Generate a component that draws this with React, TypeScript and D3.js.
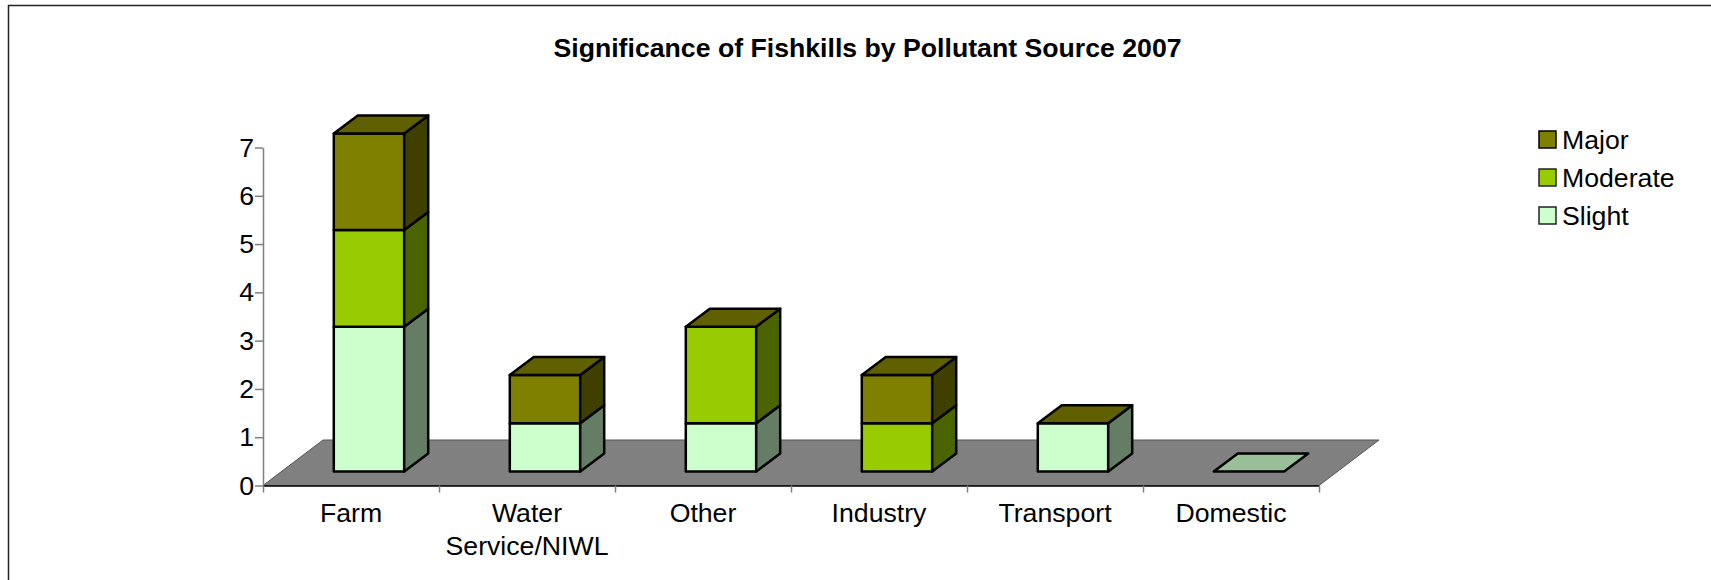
import React, { useEffect, useRef } from 'react';
import * as d3 from 'd3';

const title = 'Significance of Fishkills by Pollutant Source 2007';
const categories = ['Farm', 'Water Service/NIWL', 'Other', 'Industry', 'Transport', 'Domestic'];
// null = no value in the sheet, so no segment gets drawn (Domestic only has a flat Slight)
const slight = [3, 1, 1, 0, 1, 0];
const moderate = [2, 0, 2, 1, 0, null];
const major = [2, 1, 0, 1, 0, null];
const seriesNames = ['Slight', 'Moderate', 'Major'];
const seriesValues = [slight, moderate, major];
const legendOrder = ['Major', 'Moderate', 'Slight'];
const yTicks = [0, 1, 2, 3, 4, 5, 6, 7];

const colors: any = { Major: '#808000', Moderate: '#99cc00', Slight: '#ccffcc' };
const FONT = '"Liberation Sans", Arial, sans-serif';
const FONT_SIZE = 26.67;

export default function App() {
  const ref = useRef<SVGSVGElement>(null);

  useEffect(() => {
    const svg = d3.select(ref.current);
    svg.selectAll('*').remove();

    const x0 = 263, x1 = 1319, y0 = 485.5, y7 = 147.5;
    const floorDx = 60, floorDy = 45.5;
    const barDx = 24, barDy = 18;

    const xBand = d3.scaleBand().domain(categories).range([x0, x1]);
    const xEdge = d3.scaleLinear().domain([0, categories.length]).range([x0, x1]);
    const yScale = d3.scaleLinear().domain([0, 7]).range([y0, y7]);
    const barWidth = xBand.bandwidth() * 0.4;
    const barShift = 18;
    const baseLift = 14;

    // chart frame, only the top and left edges are visible
    svg.append('path')
      .attr('d', 'M8.5,580V5.5H1711')
      .attr('fill', 'none')
      .attr('stroke', '#222')
      .attr('stroke-width', 1.5);

    svg.append('text')
      .attr('x', 867.5)
      .attr('y', 57)
      .attr('text-anchor', 'middle')
      .attr('font-family', FONT)
      .attr('font-weight', 'bold')
      .attr('font-size', FONT_SIZE)
      .attr('fill', '#000')
      .text(title);

    // floor
    svg.append('path')
      .attr('d', `M${x0},${y0}L${x0 + floorDx},${y0 - floorDy}L${x1 + floorDx},${y0 - floorDy}L${x1},${y0}Z`)
      .attr('fill', '#808080')
      .attr('stroke', '#555')
      .attr('stroke-width', 1);

    // axes
    const yAxis = d3.axisLeft(yScale).tickValues(yTicks).tickFormat(d3.format('d') as any).tickSize(8).tickSizeOuter(0).tickPadding(1);
    const yG = svg.append('g').attr('transform', `translate(${x0},0)`).call(yAxis as any);
    yG.select('.domain').attr('stroke', '#808080').attr('stroke-width', 1.5);
    yG.selectAll('.tick line').attr('stroke', '#808080').attr('stroke-width', 1.5);
    yG.selectAll('text').attr('font-family', FONT).attr('font-size', FONT_SIZE).attr('fill', '#000');

    const xAxis = d3.axisBottom(xEdge).ticks(categories.length).tickFormat(() => '').tickSize(7).tickSizeOuter(0);
    const xG = svg.append('g').attr('transform', `translate(0,${y0})`).call(xAxis as any);
    xG.select('.domain').attr('stroke', '#000').attr('stroke-width', 1.5);
    xG.selectAll('.tick line').attr('stroke', '#808080').attr('stroke-width', 1.5);

    // category labels, wrapped on the space
    categories.forEach((c) => {
      const t = svg.append('text')
        .attr('x', xBand(c)! + xBand.bandwidth() / 2)
        .attr('y', 522)
        .attr('text-anchor', 'middle')
        .attr('font-family', FONT)
        .attr('font-size', FONT_SIZE)
        .attr('fill', '#000');
      c.split(' ').forEach((line, i) => {
        t.append('tspan')
          .attr('x', xBand(c)! + xBand.bandwidth() / 2)
          .attr('dy', i === 0 ? 0 : 33)
          .text(line);
      });
    });

    // stacked 3d bars
    const g = svg.append('g').attr('stroke', '#000').attr('stroke-width', 2.5).attr('stroke-linejoin', 'round');
    categories.forEach((c, ci) => {
      const bx = xBand(c)! + xBand.bandwidth() / 2 - barWidth / 2 + barShift;
      let sum = 0;
      let topName = 'Slight';
      seriesNames.forEach((name, si) => {
        const v = seriesValues[si][ci];
        if (v === null) return;
        topName = name;
        const yb = yScale(sum) - baseLift;
        const yt = yScale(sum + v) - baseLift;
        sum += v;
        const base = d3.color(colors[name])!;
        if (v > 0) {
          g.append('rect')
            .attr('x', bx).attr('y', yt)
            .attr('width', barWidth).attr('height', yb - yt)
            .attr('fill', colors[name]);
          g.append('path')
            .attr('d', `M${bx + barWidth},${yb}l${barDx},${-barDy}V${yt - barDy}l${-barDx},${barDy}Z`)
            .attr('fill', base.darker(2).formatHex());
        }
      });
      const yTop = yScale(sum) - baseLift;
      const topBase = d3.color(colors[topName]) as any;
      const topFill = d3.rgb(topBase.r * 0.75, topBase.g * 0.75, topBase.b * 0.75).formatHex();
      g.append('path')
        .attr('d', `M${bx},${yTop}l${barDx},${-barDy}h${barWidth}l${-barDx},${barDy}Z`)
        .attr('fill', topFill);
    });

    // legend
    const legendY = d3.scalePoint().domain(legendOrder).range([139.5, 215.5]);
    legendOrder.forEach((name) => {
      svg.append('rect')
        .attr('x', 1539)
        .attr('y', legendY(name)! - 8.5)
        .attr('width', 17)
        .attr('height', 17)
        .attr('fill', colors[name])
        .attr('stroke', name === 'Major' ? '#000' : '#222')
        .attr('stroke-width', 1.5);
      svg.append('text')
        .attr('x', 1562)
        .attr('y', legendY(name)! + 9)
        .attr('font-family', FONT)
        .attr('font-size', FONT_SIZE)
        .attr('fill', '#000')
        .text(name);
    });
  }, []);

  return (
    <svg ref={ref} width={1711} height={580} style={{ position: 'absolute', left: 0, top: 0, background: '#fff' }} />
  );
}
